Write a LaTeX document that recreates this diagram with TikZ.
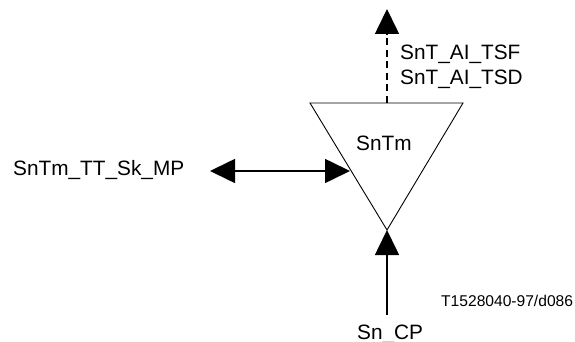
\documentclass[tikz,border=0pt]{standalone}
\usepackage{fontspec}
\setmainfont{Liberation Sans}
\usetikzlibrary{arrows.meta}
\begin{document}
\begin{tikzpicture}[x=1pt,y=-1pt,
  lbl/.style={inner sep=0pt,font=\fontsize{20.8}{24}\selectfont},
  small/.style={inner sep=0pt,font=\fontsize{15.6}{18}\selectfont},
  conn/.style={line width=1.6pt,-{Triangle[length=25pt,width=24pt]}},
  bconn/.style={line width=1.6pt,{Triangle[length=25pt,width=24pt]}-{Triangle[length=25pt,width=24pt]}}]
\useasboundingbox (0,0) rectangle (575,342);
% triangle
\coordinate (tl) at (310,103);
\coordinate (tr) at (463,103);
\coordinate (ap) at (387,230);
\draw[line width=0.9pt] (tl) -- (tr) -- (ap) -- cycle;
\node[lbl,anchor=base west] (sntm) at (356,150) {SnTm};
% top dashed arrow
\coordinate (topm) at (387,103);
\coordinate (toptip) at (387,9);
\draw[conn,dash pattern=on 7pt off 4.5pt] (topm) -- (toptip);
\node[lbl,anchor=base west] (tsf) at (400,60) {SnT\_AI\_TSF};
\node[lbl,anchor=base west] (tsd) at (400,85) {SnT\_AI\_TSD};
% left arrow
\node[lbl,anchor=base west] (mp) at (13,175) {SnTm\_TT\_Sk\_MP};
\coordinate (lt) at (210,171);
\coordinate (rt) at (350,171);
\draw[bconn] (lt) -- (rt);
% bottom arrow
\node[lbl,anchor=base west] (cp) at (357,339) {Sn\_CP};
\coordinate (bot) at (387,315);
\draw[conn] (bot) -- (ap);
\node[small,anchor=base west] (id) at (441,306) {T1528040-97/d086};
\end{tikzpicture}
\end{document}
